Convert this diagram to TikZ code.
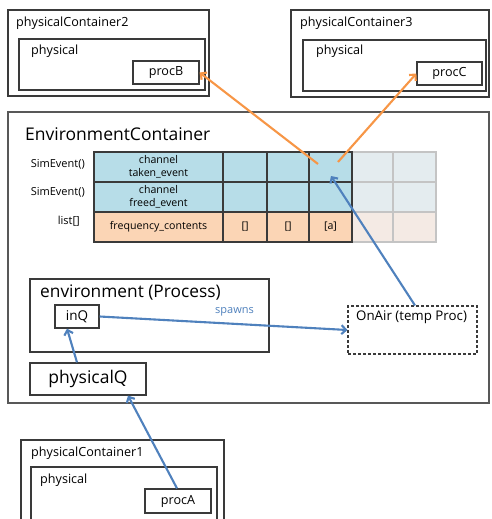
\documentclass[tikz,border=0pt]{standalone}
\usepackage{fontspec}
\setmainfont{Open Sans}
\usetikzlibrary{arrows.meta}
\definecolor{cblue}{HTML}{B7DDE8}
\definecolor{corange}{HTML}{FBD5B5}
\definecolor{fblue}{HTML}{E4ECEF}
\definecolor{forange}{HTML}{F4EAE4}
\definecolor{fgrid}{HTML}{C4C4C4}
\definecolor{arrB}{HTML}{4F81BD}
\definecolor{arrO}{HTML}{F79646}
\definecolor{edgec}{HTML}{3A3A3A}
\begin{document}
\begin{tikzpicture}[x=1pt,y=-1pt,
  box/.style={draw=edgec, line width=1.25pt, inner sep=0pt, fill=white},
  lbl/.style={anchor=west, inner sep=0pt, font=\fontsize{12.6}{15}\selectfont},
  big/.style={anchor=west, inner sep=0pt, font=\fontsize{17.5}{20}\selectfont},
  celltxt/.style={font=\fontsize{10.6}{14}\selectfont, align=center},
  cell/.style={draw=edgec, line width=1.4pt, inner sep=0pt, celltxt},
  fcell/.style={draw=fgrid, line width=1.1pt, inner sep=0pt},
  rowlbl/.style={anchor=east, inner sep=0pt, font=\fontsize{11}{13}\selectfont},
  barrow/.style={draw=arrB, line width=2.1pt, -{Straight Barb[length=4.5pt,width=9pt]}},
  oarrow/.style={draw=arrO, line width=2.1pt, -{Straight Barb[length=4.5pt,width=9pt]}}]
\useasboundingbox (0,0) rectangle (491,519);

% physicalContainer2
\node[box, minimum width=201pt, minimum height=86pt] (pc2) at (108.5,53) {};
\node[lbl] (pc2t) at (16,23) {physicalContainer2};
\node[box, minimum width=186pt, minimum height=51pt] (ph2) at (112,64.5) {};
\node[lbl] (ph2t) at (31,51) {physical};
\node[box, minimum width=66pt, minimum height=23pt, font=\fontsize{12.6}{15}\selectfont] (procB) at (166,72.5) {procB};

% physicalContainer3
\node[box, minimum width=198pt, minimum height=87pt] (pc3) at (390,53.5) {};
\node[lbl] (pc3t) at (300,23) {physicalContainer3};
\node[box, minimum width=183pt, minimum height=51pt] (ph3) at (394.5,65.5) {};
\node[lbl] (ph3t) at (316,51) {physical};
\node[box, minimum width=65pt, minimum height=23pt, font=\fontsize{12.6}{15}\selectfont] (procC) at (449.5,73.5) {procC};

% EnvironmentContainer
\node[box, draw=edgec!85, minimum width=481pt, minimum height=291pt] (envc) at (248.5,257.5) {};
\node[big] (envct) at (25,134) {EnvironmentContainer};

% row labels
\node[rowlbl] (r1) at (85,164) {SimEvent()};
\node[rowlbl] (r2) at (85,192) {SimEvent()};
\node[rowlbl] (r3) at (80,221) {list[]};

% faded cells
\node[fcell, fill=fblue, minimum width=41pt, minimum height=30pt] (f15) at (372.5,167) {};
\node[fcell, fill=fblue, minimum width=43pt, minimum height=30pt] (f16) at (414.5,167) {};
\node[fcell, fill=fblue, minimum width=41pt, minimum height=30pt] (f25) at (372.5,197) {};
\node[fcell, fill=fblue, minimum width=43pt, minimum height=30pt] (f26) at (414.5,197) {};
\node[fcell, fill=forange, minimum width=41pt, minimum height=30pt] (f35) at (372.5,227) {};
\node[fcell, fill=forange, minimum width=43pt, minimum height=30pt] (f36) at (414.5,227) {};

% main cells
\node[cell, fill=cblue, minimum width=129pt, minimum height=30pt] (c11) at (158.5,167) {channel\\[-1pt]taken\_event};
\node[cell, fill=cblue, minimum width=44pt, minimum height=30pt] (c12) at (245,167) {};
\node[cell, fill=cblue, minimum width=42pt, minimum height=30pt] (c13) at (288,167) {};
\node[cell, fill=cblue, minimum width=43pt, minimum height=30pt] (c14) at (330.5,167) {};
\node[cell, fill=cblue, minimum width=129pt, minimum height=30pt] (c21) at (158.5,197) {channel\\[-1pt]freed\_event};
\node[cell, fill=cblue, minimum width=44pt, minimum height=30pt] (c22) at (245,197) {};
\node[cell, fill=cblue, minimum width=42pt, minimum height=30pt] (c23) at (288,197) {};
\node[cell, fill=cblue, minimum width=43pt, minimum height=30pt] (c24) at (330.5,197) {};
\node[cell, fill=corange, minimum width=129pt, minimum height=30pt] (c31) at (158.5,227) {frequency\_contents};
\node[cell, fill=corange, minimum width=44pt, minimum height=30pt] (c32) at (245,227) {[]};
\node[cell, fill=corange, minimum width=42pt, minimum height=30pt] (c33) at (288,227) {[]};
\node[cell, fill=corange, minimum width=43pt, minimum height=30pt] (c34) at (330.5,227) {[a]};

% environment (Process)
\node[box, minimum width=239pt, minimum height=73pt] (envp) at (149.5,315.5) {};
\node[big, font=\fontsize{17.3}{20}\selectfont] (envpt) at (40,293) {environment (Process)};
\node[box, minimum width=44pt, minimum height=23pt, font=\fontsize{13.5}{15}\selectfont] (inQ) at (77,316.5) {inQ};
\node[anchor=west, inner sep=0pt, text=arrB, font=\fontsize{11}{13}\selectfont] (spawns) at (215,312) {spawns};

% OnAir
\node[draw=edgec, line width=1.1pt, dash pattern=on 3pt off 2pt, inner sep=0pt, minimum width=129pt, minimum height=48pt] (onair) at (412.5,330) {};
\node[anchor=west, inner sep=0pt, font=\fontsize{13.3}{15}\selectfont] (onairt) at (356,317) {OnAir (temp Proc)};

% physicalQ
\node[box, minimum width=116pt, minimum height=32pt, font=\fontsize{17.5}{20}\selectfont] (pQ) at (88,379) {physicalQ};

% physicalContainer1
\node[box, minimum width=203pt, minimum height=100pt] (pc1) at (122.5,490) {};
\node[lbl] (pc1t) at (31,453) {physicalContainer1};
\node[box, minimum width=186pt, minimum height=70pt] (ph1) at (124,502) {};
\node[lbl] (ph1t) at (40,480) {physical};
\node[box, minimum width=66pt, minimum height=24pt, font=\fontsize{12.6}{15}\selectfont] (procA) at (178,501) {procA};

% connector end points inside the table cell
\coordinate (oBs) at (318,164);
\coordinate (oCs) at (338,162);
\coordinate (bTip) at (331,176);

% connectors
\draw[oarrow] (oBs) -- (procB.east);
\draw[oarrow] (oCs) -- (procC.west);
\draw[barrow] ([xshift=2.5pt]onair.north) -- (bTip);
\draw[barrow] (inQ.east) -- (onair.west);
\draw[barrow] ([xshift=-11pt]pQ.north) -- ([xshift=-10pt]inQ.south);
\draw[barrow] ([xshift=-1pt]procA.north) -- ([xshift=40pt]pQ.south);
\end{tikzpicture}
\end{document}
